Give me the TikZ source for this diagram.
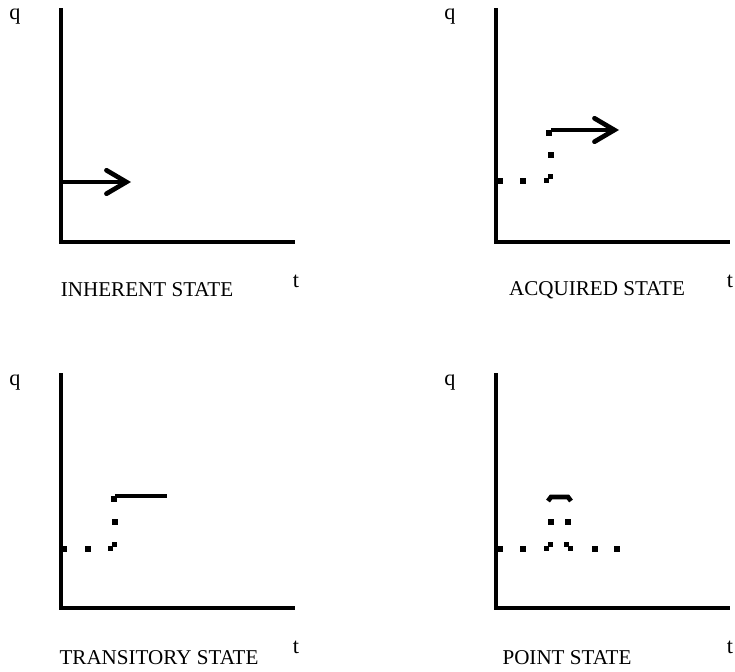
\documentclass[tikz,border=0pt]{standalone}
\usepackage{fontspec}
\setmainfont{Liberation Serif}
\usetikzlibrary{arrows.meta}
% one square dot of a dotted path
\newcommand{\pdot}[2]{\fill (#1-3,#2-3) rectangle ++(6,6);}
% a step: two dots moved by a corner
\newcommand{\pstepup}[2]{\fill (#1-5,#2-1) rectangle ++(5,5); \fill (#1-1,#2-5) rectangle ++(5,5);}
\newcommand{\pstepdown}[2]{\fill (#1-5,#2-5) rectangle ++(5,5); \fill (#1-1,#2-1) rectangle ++(5,5);}
\begin{document}
\begin{tikzpicture}[x=0.03cm, y=-0.03cm,
    axis/.style={line width=4.2pt},
    level/.style={line width=4pt},
    move/.style={line width=4pt, -{Straight Barb[length=17pt, width=20pt, line cap=round]}},
    caption/.style={font=\fontsize{18}{20}\selectfont},
    letter/.style={font=\fontsize{19}{21}\selectfont}
]
    \useasboundingbox (0,0) rectangle (735,671);

    % Inherent state
    \node[letter] (q1) at (15,17) {q};
    \draw[axis] (61,8) -- (61,242) -- (295,242);
    \node[letter] (t1) at (296,281) {t};
    \node[caption] (c1) at (147,290) {INHERENT STATE};
    \coordinate (a1) at (61,182);
    \coordinate (b1) at (131,182);
    \draw[move] (a1) -- (b1);

    % Acquired state
    \node[letter] (q2) at (450,17) {q};
    \draw[axis] (496,8) -- (496,242) -- (730,242);
    \node[letter] (t2) at (730,281) {t};
    \node[caption] (c2) at (597,290) {ACQUIRED STATE};
    \pdot{500}{181}
    \pdot{523}{181}
    \pstepup{549}{179}
    \pdot{551}{155}
    \pdot{549}{133}
    \coordinate (a2) at (551,130);
    \coordinate (b2) at (619,130);
    \draw[move] (a2) -- (b2);

    % Transitory state
    \node[letter] (q3) at (15,383) {q};
    \draw[axis] (61,373) -- (61,608) -- (295,608);
    \node[letter] (t3) at (296,647) {t};
    \node[caption] (c3) at (159,658) {TRANSITORY STATE};
    \pdot{64}{549}
    \pdot{88}{549}
    \pstepup{113}{547}
    \pdot{115}{522}
    \pdot{114}{499}
    \coordinate (a3) at (115,496);
    \coordinate (b3) at (167,496);
    \draw[level] (a3) -- (b3);

    % Point state
    \node[letter] (q4) at (450,383) {q};
    \draw[axis] (496,373) -- (496,608) -- (730,608);
    \node[letter] (t4) at (730,647) {t};
    \node[caption] (c4) at (567,658) {POINT STATE};
    \pdot{500}{549}
    \pdot{523}{549}
    \pstepup{549}{547}
    \pstepdown{569}{547}
    \pdot{595}{549}
    \pdot{617}{549}
    \pdot{551}{522}
    \pdot{568}{522}
    \draw[level] (548,501) -- (551,497) -- (568,497) -- (571,501);
\end{tikzpicture}
\end{document}
